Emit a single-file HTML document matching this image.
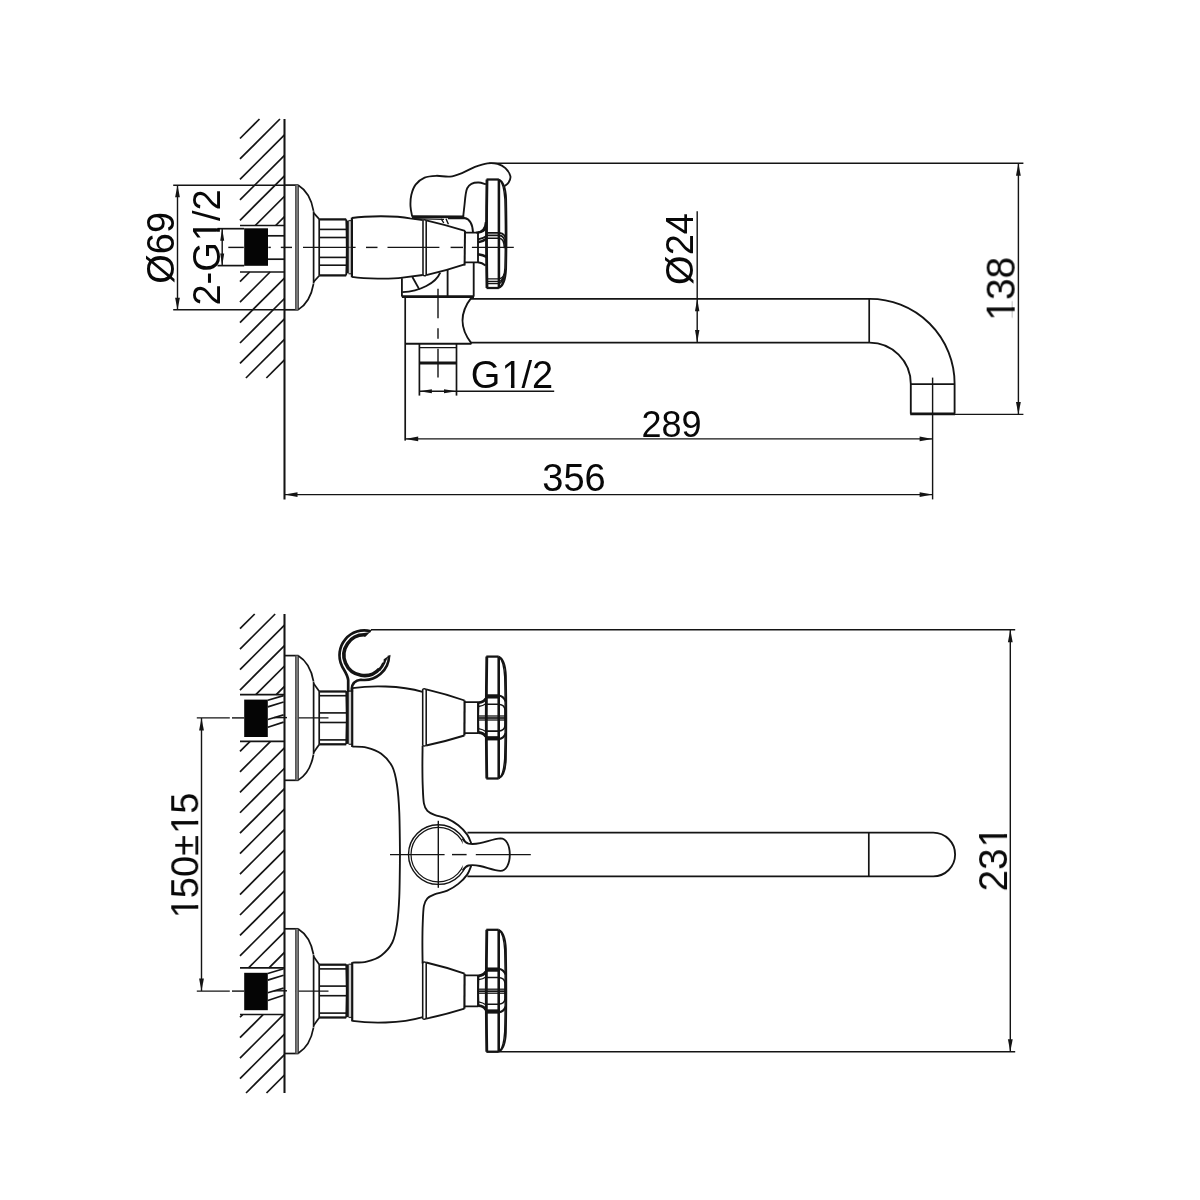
<!DOCTYPE html>
<html><head><meta charset="utf-8"><title>drawing</title>
<style>
html,body{margin:0;padding:0;background:#fff;overflow:hidden}
svg{display:block}
text{font-family:"Liberation Sans",sans-serif}
</style></head><body>
<svg width="1200" height="1200" viewBox="0 0 1200 1200" fill="none" stroke="#141414" stroke-linecap="butt" stroke-linejoin="round">
<rect x="0" y="0" width="1200" height="1200" fill="#fff" stroke="none"/>
<g id="topview">
<line x1="284.5" y1="119" x2="284.5" y2="499.6" stroke-width="2.06"/>
<line x1="240" y1="138.5" x2="259.5" y2="119" stroke-width="1.7"/>
<line x1="240" y1="158.95" x2="279.95" y2="119" stroke-width="1.7"/>
<line x1="240" y1="179.4" x2="284.5" y2="134.9" stroke-width="1.7"/>
<line x1="240" y1="199.85" x2="284.5" y2="155.35" stroke-width="1.7"/>
<line x1="240" y1="220.3" x2="284.5" y2="175.8" stroke-width="1.7"/>
<line x1="255.25" y1="225.5" x2="284.5" y2="196.25" stroke-width="1.7"/>
<line x1="275.7" y1="225.5" x2="284.5" y2="216.7" stroke-width="1.7"/>
<line x1="240" y1="281.65" x2="249.65" y2="272" stroke-width="1.7"/>
<line x1="240" y1="302.1" x2="270.1" y2="272" stroke-width="1.7"/>
<line x1="240" y1="322.55" x2="284.5" y2="278.05" stroke-width="1.7"/>
<line x1="240" y1="343" x2="284.5" y2="298.5" stroke-width="1.7"/>
<line x1="240" y1="363.45" x2="284.5" y2="318.95" stroke-width="1.7"/>
<line x1="245.9" y1="378" x2="284.5" y2="339.4" stroke-width="1.7"/>
<line x1="266.35" y1="378" x2="284.5" y2="359.85" stroke-width="1.7"/>
<line x1="240" y1="225.5" x2="284.5" y2="225.5" stroke-width="1.7"/>
<line x1="240" y1="272" x2="284.5" y2="272" stroke-width="1.7"/>
<rect x="244.2" y="228.3" width="23.8" height="37.5" fill="#050505" stroke="none"/>
<line x1="268" y1="235.8" x2="284.5" y2="235.8" stroke-width="1.7"/>
<line x1="268" y1="259.2" x2="284.5" y2="259.2" stroke-width="1.7"/>
<line x1="217.5" y1="228.7" x2="244.2" y2="228.7" stroke-width="1.7"/>
<line x1="217.5" y1="265.6" x2="244.2" y2="265.6" stroke-width="1.7"/>
<line x1="222.2" y1="228.7" x2="222.2" y2="265.6" stroke-width="1.42"/>
<polygon points="222.2,228.7 220.2,240.7 224.2,240.7" fill="#141414" stroke="none"/>
<polygon points="222.2,265.6 220.2,253.6 224.2,253.6" fill="#141414" stroke="none"/>
<line x1="228.3" y1="247.4" x2="243.8" y2="247.4" stroke-width="1.42"/>
<line x1="268.3" y1="247.4" x2="270.8" y2="247.4" stroke-width="1.42"/>
<line x1="280.8" y1="247.4" x2="292" y2="247.4" stroke-width="1.42"/>
<line x1="303" y1="247.4" x2="355.6" y2="247.4" stroke-width="1.42"/>
<line x1="366" y1="247.4" x2="377.5" y2="247.4" stroke-width="1.42"/>
<line x1="387.5" y1="247.4" x2="439.4" y2="247.4" stroke-width="1.42"/>
<line x1="450.6" y1="247.4" x2="463" y2="247.4" stroke-width="1.42"/>
<line x1="471.9" y1="247.4" x2="513.8" y2="247.4" stroke-width="1.42"/>
<line x1="284.5" y1="185.1" x2="298.5" y2="185.1" stroke-width="1.7"/>
<line x1="284.5" y1="309.8" x2="298.5" y2="309.8" stroke-width="1.7"/>
<line x1="297" y1="185.1" x2="297" y2="309.8" stroke="#7a7a7a" stroke-width="3.4"/>
<line x1="295.6" y1="185.1" x2="295.6" y2="309.8" stroke="#3a3a3a" stroke-width="0.8"/>
<line x1="298.5" y1="185.1" x2="298.5" y2="309.8" stroke="#3a3a3a" stroke-width="0.8"/>
<path d="M298.3,185.3 Q310.3,192.7 313.5,210.8" stroke-width="1.7"/>
<path d="M298.3,309.6 Q310.3,302.2 313.5,284" stroke-width="1.7"/>
<line x1="313.6" y1="211.2" x2="313.6" y2="283.6" stroke-width="1.7"/>
<line x1="313.6" y1="212.9" x2="319.2" y2="219.1" stroke-width="1.7"/>
<line x1="313.6" y1="281.9" x2="319.2" y2="275.7" stroke-width="1.7"/>
<line x1="319.2" y1="219.1" x2="319.2" y2="275.7" stroke-width="1.7"/>
<line x1="319.2" y1="219.4" x2="346.2" y2="219.4" stroke-width="2.27"/>
<line x1="319.2" y1="275.4" x2="346.2" y2="275.4" stroke-width="2.27"/>
<line x1="319.2" y1="229.4" x2="346.2" y2="229.4" stroke-width="1.63"/>
<line x1="319.2" y1="237.5" x2="346.2" y2="237.5" stroke-width="1.63"/>
<line x1="319.2" y1="257.4" x2="346.2" y2="257.4" stroke-width="1.63"/>
<line x1="319.2" y1="265.2" x2="346.2" y2="265.2" stroke-width="1.63"/>
<path d="M346.2,219.4 Q347.2,247.4 346.2,275.4" stroke-width="1.7"/>
<line x1="347.4" y1="220.6" x2="347.4" y2="273.4" stroke-width="2.84"/>
<line x1="348.6" y1="220.6" x2="351.9" y2="220.6" stroke-width="1.28"/>
<line x1="348.6" y1="273.7" x2="351.9" y2="273.7" stroke-width="1.28"/>
<line x1="350" y1="220.6" x2="350" y2="273.7" stroke="#9a9a9a" stroke-width="1"/>
<line x1="173.2" y1="185.2" x2="284.5" y2="185.2" stroke-width="1.42"/>
<line x1="173.2" y1="309.7" x2="284.5" y2="309.7" stroke-width="1.42"/>
<line x1="177.5" y1="185.2" x2="177.5" y2="309.7" stroke-width="1.42"/>
<polygon points="177.5,185.2 175.1,197.2 179.9,197.2" fill="#141414" stroke="none"/>
<polygon points="177.5,309.7 175.1,297.7 179.9,297.7" fill="#141414" stroke="none"/>
<path d="M351.9,218 C366,215.8 396,215.4 410,218.4 L422.8,220.2" stroke-width="1.85"/>
<line x1="351.9" y1="217.6" x2="351.9" y2="277.3" stroke-width="2.2"/>
<path d="M351.9,276.9 C366,278.8 390,279.2 402.5,277.6 L422.8,275" stroke-width="1.85"/>
<line x1="423" y1="220.2" x2="423" y2="275" stroke-width="1.56"/>
<line x1="426.2" y1="220.4" x2="426.2" y2="275.2" stroke-width="1.56"/>
<path d="M423,275 Q424.4,276.6 426.2,275.2" stroke-width="1.42"/>
<path d="M423,220.2 Q424.4,219.0 426.2,220.4" stroke-width="1.42"/>
<path d="M426.2,220.4 Q446,225 465,230.8" stroke-width="1.85"/>
<path d="M426.2,275.2 Q446,270.5 464.6,264.3" stroke-width="1.85"/>
<line x1="465" y1="230.8" x2="464.6" y2="265.5" stroke-width="1.99"/>
<path d="M465,232.6 L478,232.6 L478,262.3 L465,262.3" stroke-width="1.85"/>
<path d="M487,179.5 Q486,233.7 487,288" stroke-width="2.84"/>
<line x1="486.5" y1="179.5" x2="498.9" y2="179.5" stroke-width="2.27"/>
<line x1="486.5" y1="288" x2="498.9" y2="288" stroke-width="2.27"/>
<line x1="498.9" y1="179.5" x2="498.9" y2="288" stroke-width="2.56"/>
<path d="M498.9,179.5 C503.1,181.3 505.6,187.5 506.1,198.5 C506.4,214.5 506.5,223.7 506.5,233.7 C506.5,243.7 506.4,253 506.1,269 C505.6,280 503.1,286.2 498.9,288" stroke-width="1.85"/>
<path d="M499.9,180.5 C502.3,182.3 504.1,188.5 504.9,199.5 C505.3,215.5 505.4,223.7 505.4,233.7 C505.4,243.7 505.3,252 504.9,268 C504.1,279 502.3,285.2 499.9,287" stroke-width="1.42"/>
<path d="M486.5,232.9 L499.5,232.9 Q505.6,233.5 505.8,240.9" stroke-width="1.56"/>
<path d="M486.5,235.4 L499.5,235.4 Q504.9,236 505.1,244.4" stroke-width="1.56"/>
<path d="M486.5,238.2 L499.5,238.2 Q504.2,238.8 504.4,248.2" stroke-width="1.56"/>
<path d="M486.5,278.9 L499.2,278.9 Q503.6,277.9 505.2,271.9" stroke-width="1.42"/>
<path d="M486.5,281.5 L499.2,281.5 Q503.1,280.5 504.5,273.5" stroke-width="1.42"/>
<path d="M486.5,283.6 L499.2,283.6 Q502.6,282.6 503.8,274.6" stroke-width="1.42"/>
<path d="M478,232.6 Q484.5,232 486,227.5" stroke-width="2.27"/>
<path d="M478,239.3 Q483,238.6 486.5,236" stroke-width="1.7"/>
<path d="M478,242.2 Q483,241.6 486.5,238.8" stroke-width="2.56"/>
<path d="M478,254.3 Q483,255 486.5,256.8" stroke-width="2.56"/>
<path d="M478,262.3 Q482,262.6 485.6,265.6" stroke-width="1.99"/>
<path d="M412.2,216.6 C411.92,214.87 410.65,209.8 410.5,206.2 C410.35,202.6 410.45,198.6 411.3,195 C412.15,191.4 413.38,187.5 415.6,184.6 C417.82,181.7 421.17,179.07 424.6,177.6 C428.03,176.13 431.97,175.97 436.2,175.8 C440.43,175.63 445.62,177.1 450,176.6 C454.38,176.1 458.33,174.42 462.5,172.8 C466.67,171.18 470.83,168.48 475,166.9 C479.17,165.32 483.75,163.8 487.5,163.3 C491.25,162.8 494.52,163.08 497.5,163.9 C500.48,164.72 503.25,166.13 505.4,168.2 C507.55,170.27 509.87,173.93 510.4,176.3 C510.93,178.67 509.57,180.78 508.6,182.4 C507.63,184.02 505.27,185.4 504.6,186" stroke-width="1.85"/>
<path d="M463.2,216.6 C463.43,214.5 464.2,207.6 464.6,204 C465,200.4 465.17,197.63 465.6,195 C466.03,192.37 466.23,190.07 467.2,188.2 C468.17,186.33 469.5,184.75 471.4,183.8 C473.3,182.85 476.18,182.43 478.6,182.5 C481.02,182.57 484.68,183.92 485.9,184.2" stroke-width="1.85"/>
<path d="M485.7,222 C485.4,228 483,232.4 476,232.6" stroke-width="1.85"/>
<line x1="412" y1="216.7" x2="464.2" y2="216.9" stroke-width="2.7"/>
<line x1="414" y1="218.6" x2="444" y2="219.4" stroke-width="1.28"/>
<path d="M448,218.4 L464.5,218.0 C469.6,219.0 472.6,224 473.0,232.4" stroke-width="1.85"/>
<line x1="446" y1="218.8" x2="448.4" y2="224.2" stroke-width="1.42"/>
<line x1="441.2" y1="218.8" x2="443.8" y2="223" stroke-width="1.42"/>
<line x1="401.9" y1="278.2" x2="401.9" y2="296.6" stroke-width="1.85"/>
<line x1="401.9" y1="296.6" x2="474" y2="296.6" stroke-width="2.56"/>
<line x1="473.7" y1="262.3" x2="473.7" y2="296.6" stroke-width="1.85"/>
<line x1="447.6" y1="269.8" x2="447.6" y2="296.6" stroke-width="1.85"/>
<path d="M440.2,272.6 C436,283 420,291.4 402.4,292.2" stroke-width="1.85"/>
<line x1="412.4" y1="277" x2="419.4" y2="289.6" stroke-width="1.85"/>
<line x1="405.2" y1="296.6" x2="405.2" y2="440.6" stroke-width="1.7"/>
<line x1="405" y1="343.8" x2="471.4" y2="343.8" stroke-width="1.99"/>
<path d="M471.6,297.4 Q453.4,320.6 471.6,343.6" stroke-width="1.85"/>
<path d="M470.6,298.9 L869.2,298.9 A84.8,84.8 0 0 1 954.6,383.7 L954.6,413.8" stroke-width="1.85"/>
<path d="M470.6,342.6 L869.2,342.6 A41.3,41.3 0 0 1 910.8,383.9 L910.8,413.8" stroke-width="1.85"/>
<line x1="869.2" y1="298.8" x2="869.2" y2="342.4" stroke-width="1.7"/>
<line x1="910.8" y1="384.2" x2="954.6" y2="384.2" stroke-width="1.7"/>
<line x1="910.2" y1="413.8" x2="955" y2="413.8" stroke-width="2.84"/>
<line x1="419.4" y1="343.8" x2="419.4" y2="395.6" stroke-width="1.7"/>
<line x1="456.5" y1="343.8" x2="456.5" y2="395.6" stroke-width="1.7"/>
<line x1="419.4" y1="347.6" x2="456.5" y2="347.6" stroke-width="1.42"/>
<line x1="419.4" y1="363" x2="456.5" y2="363" stroke-width="2.84"/>
<line x1="419.4" y1="391.2" x2="554.2" y2="391.2" stroke-width="1.42"/>
<polygon points="419.4,391.2 431.9,389.2 431.9,393.2" fill="#141414" stroke="none"/>
<polygon points="456.5,391.2 444,389.2 444,393.2" fill="#141414" stroke="none"/>
<line x1="438" y1="288.8" x2="438" y2="318.2" stroke-width="1.42"/>
<line x1="438" y1="328.2" x2="438" y2="338.8" stroke-width="1.42"/>
<line x1="438" y1="348.8" x2="438" y2="377.6" stroke-width="1.42"/>
<line x1="697.2" y1="211.2" x2="697.2" y2="342.4" stroke-width="1.42"/>
<polygon points="697.2,298.8 695,311.3 699.4,311.3" fill="#141414" stroke="none"/>
<polygon points="697.2,342.4 695,329.9 699.4,329.9" fill="#141414" stroke="none"/>
<line x1="488.8" y1="163.2" x2="1023.4" y2="163.2" stroke-width="1.42"/>
<line x1="955" y1="414.4" x2="1023.4" y2="414.4" stroke-width="1.42"/>
<line x1="1018.4" y1="163.2" x2="1018.4" y2="414.4" stroke-width="1.42"/>
<polygon points="1018.4,163.2 1016,175.7 1020.8,175.7" fill="#141414" stroke="none"/>
<polygon points="1018.4,414.4 1016,401.9 1020.8,401.9" fill="#141414" stroke="none"/>
<line x1="932.6" y1="377.6" x2="932.6" y2="499.4" stroke-width="1.42"/>
<line x1="405.2" y1="438.9" x2="932.6" y2="438.9" stroke-width="1.42"/>
<polygon points="405.2,438.9 418.2,436.6 418.2,441.2" fill="#141414" stroke="none"/>
<polygon points="932.6,438.9 919.6,436.6 919.6,441.2" fill="#141414" stroke="none"/>
<line x1="284.5" y1="494.6" x2="932.6" y2="494.6" stroke-width="1.42"/>
<polygon points="284.5,494.6 297.5,492.3 297.5,496.9" fill="#141414" stroke="none"/>
<polygon points="932.6,494.6 919.6,492.3 919.6,496.9" fill="#141414" stroke="none"/>
</g>
<g id="frontview">
<line x1="284.5" y1="614" x2="284.5" y2="1093" stroke-width="2.06"/>
<line x1="240" y1="628.7" x2="254.7" y2="614" stroke-width="1.7"/>
<line x1="240" y1="649.15" x2="275.15" y2="614" stroke-width="1.7"/>
<line x1="240" y1="669.6" x2="284.5" y2="625.1" stroke-width="1.7"/>
<line x1="240" y1="690.05" x2="284.5" y2="645.55" stroke-width="1.7"/>
<line x1="255.8" y1="694.7" x2="284.5" y2="666" stroke-width="1.7"/>
<line x1="276.25" y1="694.7" x2="284.5" y2="686.45" stroke-width="1.7"/>
<line x1="240" y1="751.4" x2="250.1" y2="741.3" stroke-width="1.7"/>
<line x1="240" y1="771.85" x2="270.55" y2="741.3" stroke-width="1.7"/>
<line x1="240" y1="792.3" x2="284.5" y2="747.8" stroke-width="1.7"/>
<line x1="240" y1="812.75" x2="284.5" y2="768.25" stroke-width="1.7"/>
<line x1="240" y1="833.2" x2="284.5" y2="788.7" stroke-width="1.7"/>
<line x1="240" y1="853.65" x2="284.5" y2="809.15" stroke-width="1.7"/>
<line x1="240" y1="874.1" x2="284.5" y2="829.6" stroke-width="1.7"/>
<line x1="240" y1="894.55" x2="284.5" y2="850.05" stroke-width="1.7"/>
<line x1="240" y1="915" x2="284.5" y2="870.5" stroke-width="1.7"/>
<line x1="240" y1="935.45" x2="284.5" y2="890.95" stroke-width="1.7"/>
<line x1="240" y1="955.9" x2="284.5" y2="911.4" stroke-width="1.7"/>
<line x1="248.55" y1="967.8" x2="284.5" y2="931.85" stroke-width="1.7"/>
<line x1="269" y1="967.8" x2="284.5" y2="952.3" stroke-width="1.7"/>
<line x1="240" y1="1017.25" x2="242.65" y2="1014.6" stroke-width="1.7"/>
<line x1="240" y1="1037.7" x2="263.1" y2="1014.6" stroke-width="1.7"/>
<line x1="240" y1="1058.15" x2="283.55" y2="1014.6" stroke-width="1.7"/>
<line x1="240" y1="1078.6" x2="284.5" y2="1034.1" stroke-width="1.7"/>
<line x1="246.05" y1="1093" x2="284.5" y2="1054.55" stroke-width="1.7"/>
<line x1="266.5" y1="1093" x2="284.5" y2="1075" stroke-width="1.7"/>
<line x1="240" y1="694.6" x2="284.5" y2="694.6" stroke-width="1.7"/>
<line x1="240" y1="741.3" x2="284.5" y2="741.3" stroke-width="1.7"/>
<rect x="244.2" y="699.6" width="23.6" height="37.4" fill="#050505" stroke="none"/>
<line x1="267.8" y1="700.3" x2="283.6" y2="695.6" stroke-width="1.7"/>
<line x1="267.8" y1="706.9" x2="283.6" y2="702" stroke-width="1.7"/>
<line x1="267.8" y1="719.5" x2="283.6" y2="714.9" stroke-width="1.7"/>
<line x1="267.8" y1="727.3" x2="283.6" y2="722.1" stroke-width="1.7"/>
<line x1="274" y1="717.6" x2="287" y2="717.6" stroke-width="1.42"/>
<line x1="196.8" y1="717.9" x2="229.8" y2="717.9" stroke-width="1.42"/>
<line x1="232" y1="717.9" x2="244.2" y2="717.9" stroke-width="1.42"/>
<line x1="295.5" y1="717.9" x2="328.5" y2="717.9" stroke-width="1.42"/>
<line x1="284.5" y1="655.6" x2="298.5" y2="655.6" stroke-width="1.7"/>
<line x1="284.5" y1="780.3" x2="298.5" y2="780.3" stroke-width="1.7"/>
<line x1="297" y1="655.6" x2="297" y2="780.3" stroke="#7a7a7a" stroke-width="3.4"/>
<line x1="295.6" y1="655.6" x2="295.6" y2="780.3" stroke="#3a3a3a" stroke-width="0.8"/>
<line x1="298.5" y1="655.6" x2="298.5" y2="780.3" stroke="#3a3a3a" stroke-width="0.8"/>
<path d="M298.3,655.8 Q310.3,663.2 313.5,681.3" stroke-width="1.7"/>
<path d="M298.3,780.1 Q310.3,772.7 313.5,754.5" stroke-width="1.7"/>
<line x1="313.6" y1="681.7" x2="313.6" y2="754.1" stroke-width="1.7"/>
<line x1="313.6" y1="683.4" x2="319.2" y2="691.2" stroke-width="1.7"/>
<line x1="313.6" y1="752.4" x2="319.2" y2="744.6" stroke-width="1.7"/>
<line x1="319.2" y1="691.2" x2="319.2" y2="744.6" stroke-width="1.7"/>
<line x1="319.2" y1="691.5" x2="346.2" y2="691.5" stroke-width="2.27"/>
<line x1="319.2" y1="744.3" x2="346.2" y2="744.3" stroke-width="2.27"/>
<line x1="319.2" y1="695.7" x2="346.2" y2="695.7" stroke-width="1.63"/>
<line x1="319.2" y1="712.9" x2="346.2" y2="712.9" stroke-width="1.63"/>
<line x1="319.2" y1="722.5" x2="346.2" y2="722.5" stroke-width="1.63"/>
<line x1="319.2" y1="739.9" x2="346.2" y2="739.9" stroke-width="1.63"/>
<path d="M346.2,691.5 Q347.2,717.9 346.2,744.3" stroke-width="1.7"/>
<line x1="347.4" y1="691.1" x2="347.4" y2="743.9" stroke-width="2.84"/>
<line x1="348.6" y1="691.1" x2="351.9" y2="691.1" stroke-width="1.28"/>
<line x1="348.6" y1="744.2" x2="351.9" y2="744.2" stroke-width="1.28"/>
<line x1="350" y1="691.1" x2="350" y2="744.2" stroke="#9a9a9a" stroke-width="1"/>
<line x1="240" y1="967.8" x2="284.5" y2="967.8" stroke-width="1.7"/>
<line x1="240" y1="1014.5" x2="284.5" y2="1014.5" stroke-width="1.7"/>
<rect x="244.2" y="972.8" width="23.6" height="37.4" fill="#050505" stroke="none"/>
<line x1="267.8" y1="973.5" x2="283.6" y2="968.8" stroke-width="1.7"/>
<line x1="267.8" y1="980.1" x2="283.6" y2="975.2" stroke-width="1.7"/>
<line x1="267.8" y1="992.7" x2="283.6" y2="988.1" stroke-width="1.7"/>
<line x1="267.8" y1="1000.5" x2="283.6" y2="995.3" stroke-width="1.7"/>
<line x1="274" y1="990.8" x2="287" y2="990.8" stroke-width="1.42"/>
<line x1="196.8" y1="991.1" x2="229.8" y2="991.1" stroke-width="1.42"/>
<line x1="232" y1="991.1" x2="244.2" y2="991.1" stroke-width="1.42"/>
<line x1="295.5" y1="991.1" x2="328.5" y2="991.1" stroke-width="1.42"/>
<line x1="284.5" y1="928.8" x2="298.5" y2="928.8" stroke-width="1.7"/>
<line x1="284.5" y1="1053.5" x2="298.5" y2="1053.5" stroke-width="1.7"/>
<line x1="297" y1="928.8" x2="297" y2="1053.5" stroke="#7a7a7a" stroke-width="3.4"/>
<line x1="295.6" y1="928.8" x2="295.6" y2="1053.5" stroke="#3a3a3a" stroke-width="0.8"/>
<line x1="298.5" y1="928.8" x2="298.5" y2="1053.5" stroke="#3a3a3a" stroke-width="0.8"/>
<path d="M298.3,929 Q310.3,936.4 313.5,954.5" stroke-width="1.7"/>
<path d="M298.3,1053.3 Q310.3,1045.9 313.5,1027.7" stroke-width="1.7"/>
<line x1="313.6" y1="954.9" x2="313.6" y2="1027.3" stroke-width="1.7"/>
<line x1="313.6" y1="956.6" x2="319.2" y2="964.4" stroke-width="1.7"/>
<line x1="313.6" y1="1025.6" x2="319.2" y2="1017.8" stroke-width="1.7"/>
<line x1="319.2" y1="964.4" x2="319.2" y2="1017.8" stroke-width="1.7"/>
<line x1="319.2" y1="964.7" x2="346.2" y2="964.7" stroke-width="2.27"/>
<line x1="319.2" y1="1017.5" x2="346.2" y2="1017.5" stroke-width="2.27"/>
<line x1="319.2" y1="968.9" x2="346.2" y2="968.9" stroke-width="1.63"/>
<line x1="319.2" y1="986.1" x2="346.2" y2="986.1" stroke-width="1.63"/>
<line x1="319.2" y1="995.7" x2="346.2" y2="995.7" stroke-width="1.63"/>
<line x1="319.2" y1="1013.1" x2="346.2" y2="1013.1" stroke-width="1.63"/>
<path d="M346.2,964.7 Q347.2,991.1 346.2,1017.5" stroke-width="1.7"/>
<line x1="347.4" y1="964.3" x2="347.4" y2="1017.1" stroke-width="2.84"/>
<line x1="348.6" y1="964.3" x2="351.9" y2="964.3" stroke-width="1.28"/>
<line x1="348.6" y1="1017.4" x2="351.9" y2="1017.4" stroke-width="1.28"/>
<line x1="350" y1="964.3" x2="350" y2="1017.4" stroke="#9a9a9a" stroke-width="1"/>
<line x1="201.5" y1="717.9" x2="201.5" y2="991.1" stroke-width="1.42"/>
<polygon points="201.5,717.9 199.1,730.4 203.9,730.4" fill="#141414" stroke="none"/>
<polygon points="201.5,991.1 199.1,978.6 203.9,978.6" fill="#141414" stroke="none"/>
<path d="M352.4,688.1 C370,685.5 400,685.1 422.6,691.9" stroke-width="1.85"/>
<line x1="422.7" y1="689.1" x2="422.7" y2="745.7" stroke-width="1.56"/>
<line x1="426.2" y1="689.3" x2="426.2" y2="745.5" stroke-width="1.56"/>
<path d="M422.7,689.1 Q424.4,688.3 426.2,689.3" stroke-width="1.42"/>
<path d="M422.7,745.7 Q424.4,746.5 426.2,745.5" stroke-width="1.42"/>
<path d="M426.2,689.3 Q446,693.9 464.6,700.5" stroke-width="1.85"/>
<path d="M426.2,745.5 Q446,741.3 464.4,735.5" stroke-width="1.85"/>
<line x1="464.6" y1="700.5" x2="464.4" y2="735.5" stroke-width="2.13"/>
<path d="M465,702.1 L478,702.1 L478,733.1 L465,733.1" stroke-width="1.85"/>
<path d="M478.4,702.7 Q484,702.3 485.8,698.5" stroke-width="2.84"/>
<path d="M478.4,732.5 Q484,732.9 485.8,736.7" stroke-width="2.84"/>
<path d="M478.6,706.5 Q483,705.7 485.8,703.7" stroke-width="1.28"/>
<path d="M478.6,728.7 Q483,729.5 485.8,731.5" stroke-width="1.28"/>
<path d="M478.6,702.1 Q477.8,717.9 478.6,733.1" stroke-width="1.7"/>
<path d="M486.8,656.6 Q485.8,717.9 486.8,778.5" stroke-width="2.84"/>
<line x1="486.3" y1="656.6" x2="498.7" y2="656.6" stroke-width="2.27"/>
<line x1="486.3" y1="778.5" x2="498.7" y2="778.5" stroke-width="2.27"/>
<line x1="498.7" y1="656.6" x2="498.7" y2="778.5" stroke-width="2.56"/>
<path d="M498.7,656.6 C502.9,658.4 505.4,664.6 505.9,675.6 C506.2,691.6 506.3,707.9 506.3,717.9 C506.3,727.9 506.2,743.5 505.9,759.5 C505.4,770.5 502.9,776.7 498.7,778.5" stroke-width="1.85"/>
<path d="M499.7,657.6 C502.1,659.4 503.9,665.6 504.7,676.6 C505.1,692.6 505.2,707.9 505.2,717.9 C505.2,727.9 505.1,742.5 504.7,758.5 C503.9,769.5 502.1,775.7 499.7,777.5" stroke-width="1.42"/>
<line x1="486.8" y1="696.4" x2="499.1" y2="696.4" stroke-width="4.26"/>
<line x1="486.8" y1="738.3" x2="499.1" y2="738.3" stroke-width="4.26"/>
<path d="M498.7,695.5 Q503.8,696.3 505.6,701.3" stroke-width="2.13"/>
<path d="M498.7,739.2 Q503.8,738.4 505.6,733.4" stroke-width="2.13"/>
<path d="M486.8,704.3 L498.7,704.3 C502.3,704.7 505,706.9 505,710.3 L505,725.3 C505,728.7 502.3,730.7 498.7,731.1 L486.8,731.1" stroke-width="1.56"/>
<line x1="478.2" y1="716" x2="505.8" y2="716" stroke-width="1.28"/>
<line x1="478.2" y1="718" x2="505.8" y2="718" stroke-width="1.7"/>
<line x1="478.2" y1="720" x2="505.8" y2="720" stroke-width="1.28"/>
<path d="M352.4,1020.9 C370,1023.5 400,1023.9 422.6,1017.1" stroke-width="1.85"/>
<line x1="422.7" y1="962.3" x2="422.7" y2="1018.9" stroke-width="1.56"/>
<line x1="426.2" y1="962.5" x2="426.2" y2="1018.7" stroke-width="1.56"/>
<path d="M422.7,962.3 Q424.4,961.5 426.2,962.5" stroke-width="1.42"/>
<path d="M422.7,1018.9 Q424.4,1019.7 426.2,1018.7" stroke-width="1.42"/>
<path d="M426.2,962.5 Q446,967.1 464.6,973.7" stroke-width="1.85"/>
<path d="M426.2,1018.7 Q446,1014.5 464.4,1008.7" stroke-width="1.85"/>
<line x1="464.6" y1="973.7" x2="464.4" y2="1008.7" stroke-width="2.13"/>
<path d="M465,975.3 L478,975.3 L478,1006.3 L465,1006.3" stroke-width="1.85"/>
<path d="M478.4,975.9 Q484,975.5 485.8,971.7" stroke-width="2.84"/>
<path d="M478.4,1005.7 Q484,1006.1 485.8,1009.9" stroke-width="2.84"/>
<path d="M478.6,979.7 Q483,978.9 485.8,976.9" stroke-width="1.28"/>
<path d="M478.6,1001.9 Q483,1002.7 485.8,1004.7" stroke-width="1.28"/>
<path d="M478.6,975.3 Q477.8,991.1 478.6,1006.3" stroke-width="1.7"/>
<path d="M486.8,929.8 Q485.8,991.1 486.8,1051.7" stroke-width="2.84"/>
<line x1="486.3" y1="929.8" x2="498.7" y2="929.8" stroke-width="2.27"/>
<line x1="486.3" y1="1051.7" x2="498.7" y2="1051.7" stroke-width="2.27"/>
<line x1="498.7" y1="929.8" x2="498.7" y2="1051.7" stroke-width="2.56"/>
<path d="M498.7,929.8 C502.9,931.6 505.4,937.8 505.9,948.8 C506.2,964.8 506.3,981.1 506.3,991.1 C506.3,1001.1 506.2,1016.7 505.9,1032.7 C505.4,1043.7 502.9,1049.9 498.7,1051.7" stroke-width="1.85"/>
<path d="M499.7,930.8 C502.1,932.6 503.9,938.8 504.7,949.8 C505.1,965.8 505.2,981.1 505.2,991.1 C505.2,1001.1 505.1,1015.7 504.7,1031.7 C503.9,1042.7 502.1,1048.9 499.7,1050.7" stroke-width="1.42"/>
<line x1="486.8" y1="969.6" x2="499.1" y2="969.6" stroke-width="4.26"/>
<line x1="486.8" y1="1011.5" x2="499.1" y2="1011.5" stroke-width="4.26"/>
<path d="M498.7,968.7 Q503.8,969.5 505.6,974.5" stroke-width="2.13"/>
<path d="M498.7,1012.4 Q503.8,1011.6 505.6,1006.6" stroke-width="2.13"/>
<path d="M486.8,977.5 L498.7,977.5 C502.3,977.9 505,980.1 505,983.5 L505,998.5 C505,1001.9 502.3,1003.9 498.7,1004.3 L486.8,1004.3" stroke-width="1.56"/>
<line x1="478.2" y1="989.2" x2="505.8" y2="989.2" stroke-width="1.28"/>
<line x1="478.2" y1="991.2" x2="505.8" y2="991.2" stroke-width="1.7"/>
<line x1="478.2" y1="993.2" x2="505.8" y2="993.2" stroke-width="1.28"/>
<path d="M352.4,746.6 C354.78,746.77 361.88,746.4 366.7,747.6 C371.52,748.8 377.03,750.62 381.3,753.8 C385.57,756.98 389.68,761.5 392.3,766.7 C394.92,771.9 395.83,777.37 397,785 C398.17,792.63 398.8,800.9 399.3,812.5 C399.8,824.1 399.88,847.58 400,854.6" stroke-width="1.85"/>
<path d="M422.6,745.8 C422.57,749.28 422.38,760.17 422.4,766.7 C422.42,773.23 422.45,778.9 422.7,785 C422.95,791.1 423.12,798.98 423.9,803.3 C424.68,807.62 425.63,808.97 427.4,810.9 C429.17,812.83 431.18,813.62 434.5,814.9 C437.82,816.18 443.33,816.87 447.3,818.6 C451.27,820.33 454.98,822.63 458.3,825.3 C461.62,827.97 465.02,831.52 467.2,834.6 C469.38,837.68 470.7,842.27 471.4,843.8" stroke-width="1.85"/>
<line x1="352.2" y1="687.8" x2="352.2" y2="747" stroke-width="2.2"/>
<path d="M352.4,962.6 C354.78,962.43 361.88,962.8 366.7,961.6 C371.52,960.4 377.03,958.58 381.3,955.4 C385.57,952.22 389.68,947.7 392.3,942.5 C394.92,937.3 395.83,931.83 397,924.2 C398.17,916.57 398.8,908.3 399.3,896.7 C399.8,885.1 399.88,861.62 400,854.6" stroke-width="1.85"/>
<path d="M422.6,963.4 C422.57,959.92 422.38,949.03 422.4,942.5 C422.42,935.97 422.45,930.3 422.7,924.2 C422.95,918.1 423.12,910.22 423.9,905.9 C424.68,901.58 425.63,900.23 427.4,898.3 C429.17,896.37 431.18,895.58 434.5,894.3 C437.82,893.02 443.33,892.33 447.3,890.6 C451.27,888.87 454.98,886.57 458.3,883.9 C461.62,881.23 465.02,877.68 467.2,874.6 C469.38,871.52 470.7,866.93 471.4,865.4" stroke-width="1.85"/>
<line x1="352.2" y1="1021.4" x2="352.2" y2="962.2" stroke-width="2.2"/>
<path d="M467.4,832.6 L933.2,832.6 A21.9,21.9 0 0 1 933.2,876.4 L467.4,876.4" stroke-width="1.85"/>
<line x1="868.8" y1="832.6" x2="868.8" y2="876.4" stroke-width="1.7"/>
<circle cx="438.3" cy="854.6" r="29.8" stroke-width="1.42"/>
<circle cx="438.3" cy="854.6" r="27.3" stroke-width="1.21"/>
<path d="M462.6,838.6 C464.2,841 465.4,843 468.5,843.7 C472,844.3 476,844 480,843.2 C487,841.7 494,838.6 500.5,838.3 C506,838.3 509.8,845 509.8,854.6 C509.8,864.2 506,870.9 500.5,870.9 C494,870.6 487,867.5 480,866 C476,865.2 472,864.9 468.5,865.5 C465.4,866.2 464.2,868.2 462.6,870.6" fill="#fff" stroke-width="1.85"/>
<line x1="438.3" y1="820.8" x2="438.3" y2="887.8" stroke-width="1.42"/>
<line x1="390" y1="854.6" x2="444.6" y2="854.6" stroke-width="1.42"/>
<line x1="452" y1="854.6" x2="466.6" y2="854.6" stroke-width="1.42"/>
<line x1="475.8" y1="854.6" x2="530.8" y2="854.6" stroke-width="1.42"/>
<path d="M370.72,631.25 A24.8,24.8 0 0 0 341.82,665.68 C342.9,668.6 347.7,674.4 348.2,680.2 L348.2,692" stroke-width="2.7"/>
<path d="M365.01,634.81 A20.4,20.4 0 1 0 379.46,668.85" stroke-width="3.6"/>
<path d="M379.33,669.72 A20.9,20.9 0 0 0 383.68,663.03" stroke-width="3.0"/>
<path d="M383.85,663.9 A21.4,21.4 0 0 0 385.31,659.28" stroke-width="2.2"/>
<path d="M389.1,655.63 A24.8,24.8 0 0 1 360.85,679.76 C356.2,680.4 352.3,682.6 351.8,688.4 L351.8,692" stroke-width="2.6"/>
<polygon points="370.63,629.83 371.86,630.17 365.44,636.63 363.98,636.6 363.91,633 368.78,632.13" fill="#141414" stroke="none"/>
<polygon points="390.4,654.74 390.38,656.34 387.67,657.66 385.94,661 383.57,660.54 383.7,659.15" fill="#141414" stroke="none"/>
<line x1="371" y1="629.8" x2="1015.2" y2="629.8" stroke-width="1.42"/>
<line x1="487" y1="1051.8" x2="1015.2" y2="1051.8" stroke-width="1.42"/>
<line x1="1010.3" y1="629.8" x2="1010.3" y2="1051.8" stroke-width="1.42"/>
<polygon points="1010.3,629.8 1007.9,642.3 1012.7,642.3" fill="#141414" stroke="none"/>
<polygon points="1010.3,1051.8 1007.9,1039.3 1012.7,1039.3" fill="#141414" stroke="none"/>
</g>
<g id="labels" stroke="none" fill="#080808" style="opacity:0.999">
<g transform="translate(174.2 247.8) rotate(-90) scale(1 1.03)" font-size="38">
<text x="-35.91" y="0">Ø</text>
<text x="-6.35" y="0">6</text>
<text x="14.78" y="0">9</text>
</g>
<g transform="translate(219.5 247.5) rotate(-90) scale(1 1.03)" font-size="38">
<text x="-58.09" y="0">2</text>
<text x="-36.95" y="0">-</text>
<text x="-24.3" y="0">G</text>
<clipPath id="k1"><polygon points="6.37,-27.83 27.51,-27.83 27.51,-2.89 19.36,-2.89 19.36,0.37 15.84,0.37 15.84,-2.89 6.37,-2.89"/></clipPath>
<text x="6.37" y="0" clip-path="url(#k1)">1</text>
<text x="26.39" y="0">/</text>
<text x="36.95" y="0">2</text>
</g>
<g transform="translate(692.9 249) rotate(-90) scale(1 1.03)" font-size="38">
<text x="-35.91" y="0">Ø</text>
<text x="-6.35" y="0">2</text>
<text x="14.78" y="0">4</text>
</g>
<g transform="translate(1015.1 289.3) rotate(-90) scale(1 1.04)" font-size="39">
<clipPath id="k2"><polygon points="-31.39,-28.56 -9.7,-28.56 -9.7,-2.97 -18.06,-2.97 -18.06,0.38 -21.68,0.38 -21.68,-2.97 -31.39,-2.97"/></clipPath>
<text x="-31.39" y="0" clip-path="url(#k2)">1</text>
<text x="-10.84" y="0">3</text>
<text x="10.84" y="0">8</text>
</g>
<g transform="translate(512 387.9) scale(1 1.04)" font-size="38">
<text x="-41.19" y="0">G</text>
<clipPath id="k3"><polygon points="-10.52,-27.83 10.61,-27.83 10.61,-2.89 2.47,-2.89 2.47,0.37 -1.06,0.37 -1.06,-2.89 -10.52,-2.89"/></clipPath>
<text x="-10.52" y="0" clip-path="url(#k3)">1</text>
<text x="9.5" y="0">/</text>
<text x="20.06" y="0">2</text>
</g>
<g transform="translate(671.6 436.6) scale(1 1)" font-size="36">
<text x="-30.03" y="0">2</text>
<text x="-10.01" y="0">8</text>
<text x="10.01" y="0">9</text>
</g>
<g transform="translate(574 491.4) scale(1 1.03)" font-size="38">
<text x="-31.7" y="0">3</text>
<text x="-10.57" y="0">5</text>
<text x="10.57" y="0">6</text>
</g>
<g transform="translate(198.3 856) rotate(-90) scale(1 1.03)" font-size="38">
<clipPath id="k4"><polygon points="-62.15,-27.83 -41.02,-27.83 -41.02,-2.89 -49.16,-2.89 -49.16,0.37 -52.69,0.37 -52.69,-2.89 -62.15,-2.89"/></clipPath>
<text x="-62.15" y="0" clip-path="url(#k4)">1</text>
<text x="-42.13" y="0">5</text>
<text x="-20.99" y="0">0</text>
<text x="0.14" y="0">±</text>
<clipPath id="k5"><polygon points="22.11,-27.83 43.24,-27.83 43.24,-2.89 35.1,-2.89 35.1,0.37 31.57,0.37 31.57,-2.89 22.11,-2.89"/></clipPath>
<text x="22.11" y="0" clip-path="url(#k5)">1</text>
<text x="42.13" y="0">5</text>
</g>
<g transform="translate(1007.1 859.2) rotate(-90) scale(1 1.03)" font-size="38.6">
<text x="-32.2" y="0">2</text>
<text x="-10.73" y="0">3</text>
<clipPath id="k6"><polygon points="11.86,-28.27 33.33,-28.27 33.33,-2.94 25.06,-2.94 25.06,0.38 21.48,0.38 21.48,-2.94 11.86,-2.94"/></clipPath>
<text x="11.86" y="0" clip-path="url(#k6)">1</text>
</g>
</g>
</svg></body></html>
